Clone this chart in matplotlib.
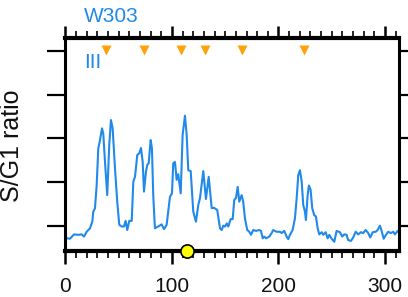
import numpy as np
import matplotlib
matplotlib.use("Agg")
import matplotlib.pyplot as plt
from matplotlib.ticker import MultipleLocator

plt.rcParams["font.family"] = ["Liberation Sans", "DejaVu Sans"]

# S/G1 ratio trace along the chromosome (kb)
pos_kb = [1.7, 4.2, 8.0, 12.0, 15.2, 17.4, 19.9, 23.0, 25.2, 26.1, 27.7, 29.3,
          30.8, 32.4, 34.3, 35.5, 37.1, 39.2, 41.1, 42.7, 44.3, 46.5, 48.6, 50.5,
          52.8, 54.9, 56.5, 58.0, 59.9, 62.2, 63.7, 65.3, 67.4, 69.3, 70.9, 72.5,
          73.7, 75.6, 76.8, 78.1, 80.0, 81.2, 82.4, 84.0, 87.1, 90.3, 92.5, 95.0,
          96.5, 98.1, 100.0, 101.2, 102.8, 104.4, 105.9, 108.2, 110.0, 112.2, 113.8,
          115.3, 117.6, 120.0, 122.5, 124.7, 126.3, 129.4, 131.9, 134.5, 137.3,
          139.4, 142.5, 145.1, 146.7, 148.2, 149.8, 151.4, 152.9, 155.1, 157.0,
          158.5, 160.1, 161.7, 163.2, 165.4, 166.9, 168.5, 170.7, 172.6, 174.2,
          176.3, 178.9, 182.0, 183.6, 185.2, 186.7, 188.3, 191.4, 193.6, 195.1,
          198.3, 201.4, 203.0, 205.4, 207.7, 209.2, 210.8, 213.3, 215.5, 217.1,
          218.6, 220.2, 221.8, 223.3, 224.9, 225.8, 227.4, 228.6, 230.2, 231.7,
          233.6, 235.2, 236.8, 238.3, 240.6, 242.1, 244.3, 246.2, 247.7, 250.0,
          252.4, 254.6, 257.7, 259.9, 261.8, 264.0, 265.5, 268.1, 270.2, 272.5,
          274.9, 277.5, 279.6, 281.9, 284.3, 286.2, 288.5, 291.3, 293.1, 295.3,
          296.9, 298.8, 300.9, 303.1, 305.6, 307.8, 309.4, 311.9, 313.1]
ratio = [0.71, 0.70, 0.80, 0.79, 0.80, 0.75, 0.86, 0.94, 1.09, 1.32, 1.40, 1.93,
         2.77, 2.96, 3.23, 3.11, 2.46, 1.70, 2.85, 3.42, 3.23, 2.31, 1.55, 1.02,
         0.98, 0.98, 1.11, 0.90, 1.11, 1.11, 2.01, 2.12, 2.62, 2.66, 2.78, 2.46,
         1.78, 2.24, 2.39, 2.43, 2.96, 2.77, 1.70, 0.94, 0.98, 1.03, 0.92, 1.02,
         1.32, 1.66, 1.74, 2.43, 2.46, 2.05, 2.18, 1.74, 3.08, 3.52, 3.08,
         2.27, 2.25, 1.32, 1.09, 1.47, 1.63, 2.25, 1.61, 2.12, 1.40,
         1.41, 1.36, 0.94, 0.90, 1.00, 0.98, 1.05, 0.98, 1.15, 1.15,
         1.59, 1.63, 1.89, 1.55, 1.70, 1.55, 1.17, 0.90, 0.86, 0.79,
         0.90, 0.88, 0.90, 0.88, 0.71, 0.75, 0.71, 0.75, 0.83, 0.90,
         0.86, 0.86, 0.83, 0.88, 0.75, 0.69, 0.79, 0.90, 1.17, 1.63,
         2.16, 2.27, 2.01, 1.47, 1.32, 1.13, 1.70, 1.92, 1.82, 1.40,
         1.24, 1.21, 0.94, 0.80, 0.85, 0.79, 0.85, 0.71, 0.79, 0.70,
         0.63, 0.88, 0.85, 0.75, 0.80, 0.79, 0.67, 0.65, 0.73, 0.86,
         0.80, 0.85, 0.83, 0.90, 0.83, 0.73, 0.85, 0.86, 0.90, 1.00,
         0.88, 0.70, 0.79, 0.86, 0.83, 0.86, 0.80, 0.88, 0.85]

origins_kb = [38.3, 74.0, 108.5, 130.7, 165.7, 224.2]
centromere_kb = 113.8
strain = "W303"
chrom = "III"

_C_LINE = "#2189ea"
_C_ORI = "#ffa20a"

fig = plt.figure(figsize=(4.08, 2.97), dpi=100)
ax = fig.add_axes([0.1605, 0.155, 0.979 - 0.1605, 0.872 - 0.155])

ax.plot(pos_kb, ratio, color=_C_LINE, lw=1.5)
ax.plot(origins_kb, [5.03] * len(origins_kb), "v", color=_C_ORI, ms=7.5, mec="none")
ax.plot([centromere_kb], [0.42], "o", ms=9.5, mfc="#ffff00", mec="black",
        mew=1.2, clip_on=False, zorder=5)

ax.set_xlim(0, 313.6)
ax.set_ylim(0.42, 5.30)

ax.xaxis.set_major_locator(MultipleLocator(100))
ax.xaxis.set_minor_locator(MultipleLocator(10))
ax.yaxis.set_major_locator(MultipleLocator(1))
ax.tick_params(axis="x", which="major", direction="out", length=9, width=1.8,
               top=True, labelsize=15, pad=10, labelcolor="#111111")
ax.tick_params(axis="x", which="minor", direction="out", length=5, width=1.2, top=True)
ax.tick_params(axis="y", which="major", direction="out", length=13, width=1.6,
               right=True, labelleft=False)

for s in ("left", "right"):
    ax.spines[s].set_linewidth(2.2)
for s in ("top", "bottom"):
    ax.spines[s].set_linewidth(3.0)

ax.set_ylabel("S/G1 ratio", fontsize=18, color="#111111")
ax.yaxis.set_label_coords(-0.124, 0.495)
ax.text(0.055, 1.099, strain, transform=ax.transAxes, color=_C_LINE, fontsize=15,
        ha="left", va="center")
ax.text(0.055, 0.883, chrom, transform=ax.transAxes, color=_C_LINE, fontsize=15,
        ha="left", va="center")

fig.savefig("out.png", dpi=100)
